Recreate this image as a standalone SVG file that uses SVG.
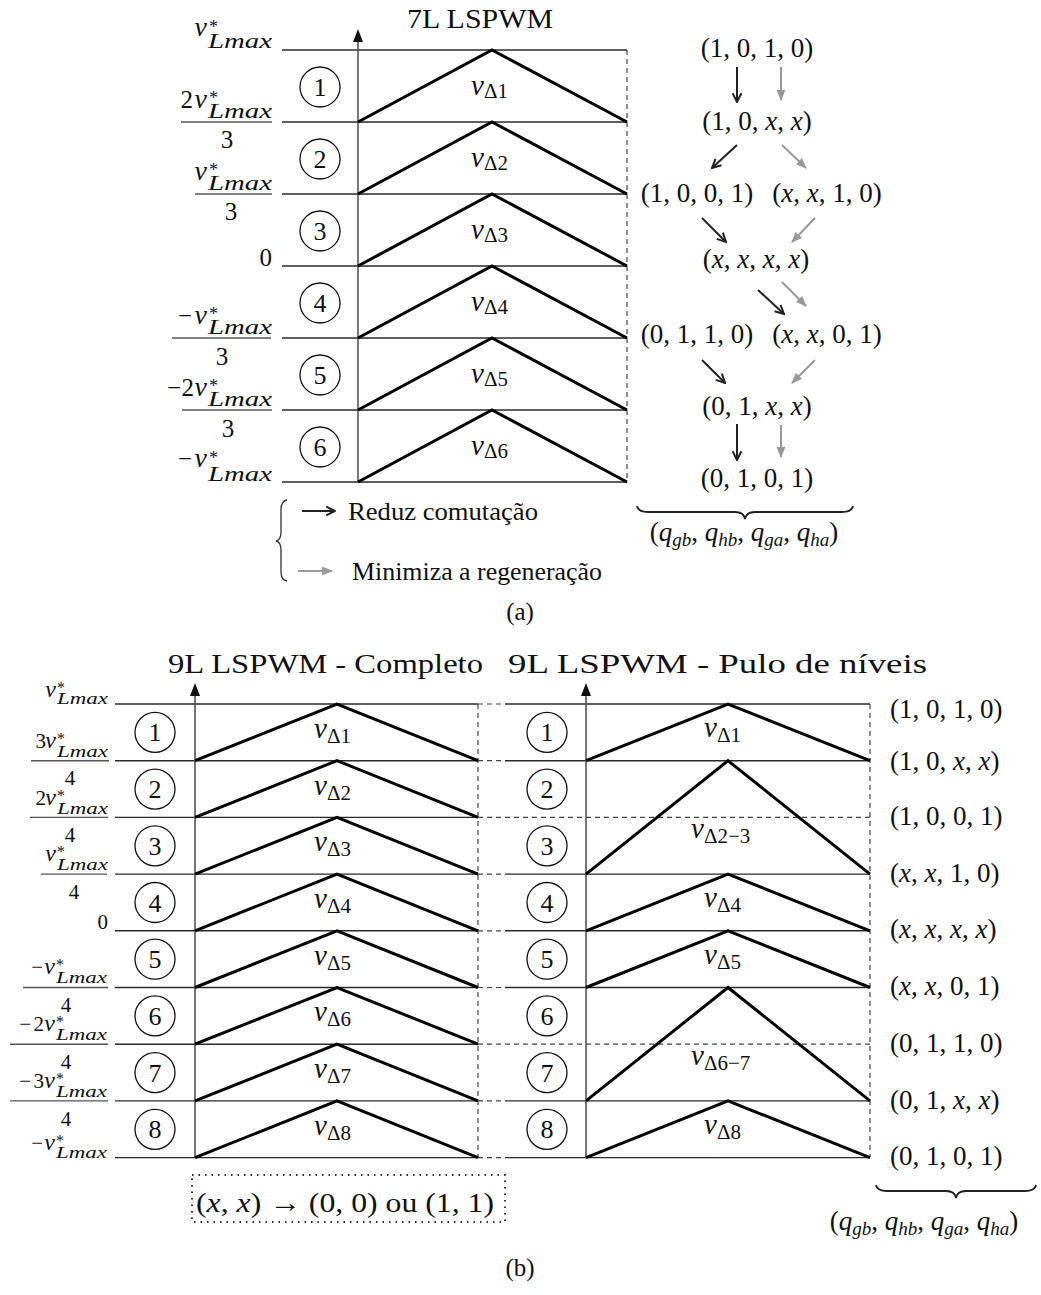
<svg xmlns="http://www.w3.org/2000/svg" width="1041" height="1295" viewBox="0 0 1041 1295">
<style>
text { font-family: "Liberation Serif", "DejaVu Serif", serif; fill: #111; }
.i { font-style: italic; }
.st { font-size: 27px; }
.grid { stroke: #2a2a2a; stroke-width: 1.4; fill: none; }
.dash { stroke: #444; stroke-width: 1.2; stroke-dasharray: 5 4; fill: none; }
.tri { stroke: #000; stroke-width: 3; fill: none; }
.axis { stroke: #555; stroke-width: 1.6; }
.circ { fill: none; stroke: #111; stroke-width: 1.3; }
.cn { font-size: 26px; text-anchor: middle; }
.bar { stroke: #555; stroke-width: 1.4; }
.ab { stroke: #222; stroke-width: 2; fill: none; marker-end: url(#mb); }
.ag { stroke: #999; stroke-width: 2; fill: none; marker-end: url(#mg); }
.brace { stroke: #222; stroke-width: 1.8; fill: none; }
.va { font-size: 29px; }
.vs { font-size: 21px; font-style: normal; }
</style>
<defs>
<marker id="mb" viewBox="0 0 10 10" refX="9" refY="5" markerWidth="11" markerHeight="11" orient="auto" markerUnits="userSpaceOnUse"><path d="M1,1 L9,5 L1,9" fill="none" stroke="#222" stroke-width="1.8"/></marker>
<marker id="mg" viewBox="0 0 10 10" refX="9" refY="5" markerWidth="11" markerHeight="11" orient="auto" markerUnits="userSpaceOnUse"><path d="M0,1 L10,5 L0,9 Z" fill="#999"/></marker>
</defs>

<!-- ===== (a) 7L LSPWM ===== -->
<text x="407" y="28" font-size="28" textLength="146" lengthAdjust="spacingAndGlyphs">7L LSPWM</text>
<g id="grid-a">
<line class="grid" x1="282" y1="50" x2="627" y2="50"/>
<line class="grid" x1="282" y1="122" x2="627" y2="122"/>
<line class="grid" x1="282" y1="194" x2="627" y2="194"/>
<line class="grid" x1="282" y1="266" x2="627" y2="266"/>
<line class="grid" x1="282" y1="338" x2="627" y2="338"/>
<line class="grid" x1="282" y1="410" x2="627" y2="410"/>
<line class="grid" x1="282" y1="482" x2="627" y2="482"/>
<line class="dash" x1="627" y1="50" x2="627" y2="482"/>
<line class="axis" x1="358" y1="482" x2="358" y2="40"/>
<polygon points="358,29 353,42 363,42" fill="#111"/>
<polyline class="tri" points="358,122 492,50 627,122"/>
<polyline class="tri" points="358,194 492,122 627,194"/>
<polyline class="tri" points="358,266 492,194 627,266"/>
<polyline class="tri" points="358,338 492,266 627,338"/>
<polyline class="tri" points="358,410 492,338 627,410"/>
<polyline class="tri" points="358,482 492,410 627,482"/>
<text x="471" y="95" class="va i">v<tspan class="vs" dy="3">Δ1</tspan></text>
<text x="471" y="167" class="va i">v<tspan class="vs" dy="3">Δ2</tspan></text>
<text x="471" y="239" class="va i">v<tspan class="vs" dy="3">Δ3</tspan></text>
<text x="471" y="311" class="va i">v<tspan class="vs" dy="3">Δ4</tspan></text>
<text x="471" y="383" class="va i">v<tspan class="vs" dy="3">Δ5</tspan></text>
<text x="471" y="455" class="va i">v<tspan class="vs" dy="3">Δ6</tspan></text>
</g>
<g id="circles-a">
<circle class="circ" cx="320" cy="87" r="20"/><text class="cn" x="320" y="96">1</text>
<circle class="circ" cx="320" cy="159" r="20"/><text class="cn" x="320" y="168">2</text>
<circle class="circ" cx="320" cy="231" r="20"/><text class="cn" x="320" y="240">3</text>
<circle class="circ" cx="320" cy="303" r="20"/><text class="cn" x="320" y="312">4</text>
<circle class="circ" cx="320" cy="375" r="20"/><text class="cn" x="320" y="384">5</text>
<circle class="circ" cx="320" cy="447" r="20"/><text class="cn" x="320" y="456">6</text>
</g>
<g id="labels-a">
<!-- L0 -->
<text x="207" y="36" font-size="28" class="i" text-anchor="end">v</text>
<text x="209" y="33" font-size="18">*</text>
<text x="208" y="48" font-size="20" class="i" textLength="64" lengthAdjust="spacingAndGlyphs">Lmax</text>
<!-- L1 -->
<text x="193" y="108" font-size="25" text-anchor="end">2</text>
<text x="207" y="108" font-size="28" class="i" text-anchor="end">v</text>
<text x="209" y="104" font-size="18">*</text>
<text x="208" y="118" font-size="20" class="i" textLength="64" lengthAdjust="spacingAndGlyphs">Lmax</text>
<line class="bar" x1="181" y1="122" x2="272" y2="122"/>
<text x="227" y="148" font-size="25" text-anchor="middle">3</text>
<!-- L2 -->
<text x="207" y="180" font-size="28" class="i" text-anchor="end">v</text>
<text x="209" y="176" font-size="18">*</text>
<text x="208" y="190" font-size="20" class="i" textLength="64" lengthAdjust="spacingAndGlyphs">Lmax</text>
<line class="bar" x1="195" y1="194" x2="272" y2="194"/>
<text x="231" y="220" font-size="25" text-anchor="middle">3</text>
<!-- L3 -->
<text x="272" y="266" font-size="25" text-anchor="end">0</text>
<!-- L4 -->
<text x="192" y="324" font-size="25" text-anchor="end">−</text>
<text x="207" y="324" font-size="28" class="i" text-anchor="end">v</text>
<text x="209" y="320" font-size="18">*</text>
<text x="208" y="334" font-size="20" class="i" textLength="64" lengthAdjust="spacingAndGlyphs">Lmax</text>
<line class="bar" x1="172" y1="338" x2="271" y2="338"/>
<text x="222" y="365" font-size="25" text-anchor="middle">3</text>
<!-- L5 -->
<text x="181" y="396" font-size="25" text-anchor="end">−</text>
<text x="194" y="396" font-size="25" text-anchor="end">2</text>
<text x="207" y="396" font-size="28" class="i" text-anchor="end">v</text>
<text x="209" y="392" font-size="18">*</text>
<text x="208" y="406" font-size="20" class="i" textLength="64" lengthAdjust="spacingAndGlyphs">Lmax</text>
<line class="bar" x1="182" y1="410" x2="272" y2="410"/>
<text x="228" y="437" font-size="25" text-anchor="middle">3</text>
<!-- L6 -->
<text x="192" y="467" font-size="25" text-anchor="end">−</text>
<text x="207" y="467" font-size="28" class="i" text-anchor="end">v</text>
<text x="209" y="464" font-size="18">*</text>
<text x="208" y="481" font-size="20" class="i" textLength="64" lengthAdjust="spacingAndGlyphs">Lmax</text>
</g>

<g id="s1"><text class="st" x="757" y="57" text-anchor="middle">(1, 0, 1, 0)</text></g>
<g id="s2"><text class="st" x="757" y="130" text-anchor="middle">(1, 0, <tspan class="i">x</tspan>, <tspan class="i">x</tspan>)</text></g>
<g id="s3a"><text class="st" x="697" y="202" text-anchor="middle">(1, 0, 0, 1)</text></g>
<g id="s3b"><text class="st" x="827" y="202" text-anchor="middle">(<tspan class="i">x</tspan>, <tspan class="i">x</tspan>, 1, 0)</text></g>
<g id="s4"><text class="st" x="756" y="268" text-anchor="middle">(<tspan class="i">x</tspan>, <tspan class="i">x</tspan>, <tspan class="i">x</tspan>, <tspan class="i">x</tspan>)</text></g>
<g id="s5a"><text class="st" x="697" y="343" text-anchor="middle">(0, 1, 1, 0)</text></g>
<g id="s5b"><text class="st" x="827" y="343" text-anchor="middle">(<tspan class="i">x</tspan>, <tspan class="i">x</tspan>, 0, 1)</text></g>
<g id="s6"><text class="st" x="757" y="415" text-anchor="middle">(0, 1, <tspan class="i">x</tspan>, <tspan class="i">x</tspan>)</text></g>
<g id="s7"><text class="st" x="757" y="487" text-anchor="middle">(0, 1, 0, 1)</text></g>

<g id="connectors">
<line class="ab" x1="737" y1="67" x2="737" y2="102"/>
<line class="ag" x1="781" y1="67" x2="781" y2="100"/>
<line class="ab" x1="737" y1="145" x2="712" y2="168"/>
<line class="ag" x1="782" y1="145" x2="806" y2="168"/>
<line class="ab" x1="702" y1="218" x2="726" y2="242"/>
<line class="ag" x1="815" y1="218" x2="792" y2="242"/>
<line class="ab" x1="758" y1="290" x2="784" y2="314"/>
<line class="ag" x1="782" y1="282" x2="806" y2="306"/>
<line class="ab" x1="702" y1="360" x2="725" y2="383"/>
<line class="ag" x1="815" y1="360" x2="792" y2="383"/>
<line class="ab" x1="737" y1="424" x2="737" y2="460"/>
<line class="ag" x1="781" y1="425" x2="781" y2="457"/>
</g>

<g id="brace-a">
<path class="brace" d="M637,506 Q638,512 648,512 L735,512 Q744,512 745,519 Q746,512 755,512 L842,512 Q852,512 853,506"/>
<text x="744" y="541" font-size="27" text-anchor="middle">(<tspan class="i">q</tspan><tspan class="i" font-size="19" dy="5">gb</tspan><tspan dy="-5">, </tspan><tspan class="i">q</tspan><tspan class="i" font-size="19" dy="5">hb</tspan><tspan dy="-5">, </tspan><tspan class="i">q</tspan><tspan class="i" font-size="19" dy="5">ga</tspan><tspan dy="-5">, </tspan><tspan class="i">q</tspan><tspan class="i" font-size="19" dy="5">ha</tspan><tspan dy="-5">)</tspan></text>
</g>

<g id="legend">
<path d="M287,500 Q281,501 281,510 L281,532 Q281,540 276,541 Q281,542 281,550 L281,572 Q281,580 287,581" stroke="#333" stroke-width="1.3" fill="none"/>
<line class="ab" x1="302" y1="511" x2="335" y2="511"/>
<text x="348" y="520" font-size="25" textLength="190" lengthAdjust="spacingAndGlyphs">Reduz comutação</text>
<line class="ag" x1="298" y1="571" x2="332" y2="571"/>
<text x="352" y="580" font-size="25" textLength="250" lengthAdjust="spacingAndGlyphs">Minimiza a regeneração</text>
</g>

<text x="520" y="620" font-size="25" text-anchor="middle">(a)</text>

<!-- ===== (b) 9L LSPWM ===== -->
<text x="168" y="673" font-size="28" textLength="315" lengthAdjust="spacingAndGlyphs">9L LSPWM - Completo</text>
<text x="508" y="673" font-size="28" textLength="419" lengthAdjust="spacingAndGlyphs">9L LSPWM - Pulo de níveis</text>

<g id="grid-b-left">
<line class="grid" x1="115" y1="704" x2="478" y2="704"/>
<line class="grid" x1="115" y1="760.7" x2="478" y2="760.7"/>
<line class="grid" x1="115" y1="817.4" x2="478" y2="817.4"/>
<line class="grid" x1="115" y1="874.1" x2="478" y2="874.1"/>
<line class="grid" x1="115" y1="930.8" x2="478" y2="930.8"/>
<line class="grid" x1="115" y1="987.5" x2="478" y2="987.5"/>
<line class="grid" x1="115" y1="1044.2" x2="478" y2="1044.2"/>
<line class="grid" x1="115" y1="1100.9" x2="478" y2="1100.9"/>
<line class="grid" x1="115" y1="1157.6" x2="478" y2="1157.6"/>
<line class="dash" x1="478" y1="704" x2="478" y2="1157.6"/>
<line class="axis" x1="195" y1="1157.6" x2="195" y2="694"/>
<polygon points="195,683 190,696 200,696" fill="#111"/>
<polyline class="tri" points="195,760.7 337,704 478,760.7"/>
<polyline class="tri" points="195,817.4 337,760.7 478,817.4"/>
<polyline class="tri" points="195,874.1 337,817.4 478,874.1"/>
<polyline class="tri" points="195,930.8 337,874.1 478,930.8"/>
<polyline class="tri" points="195,987.5 337,930.8 478,987.5"/>
<polyline class="tri" points="195,1044.2 337,987.5 478,1044.2"/>
<polyline class="tri" points="195,1100.9 337,1044.2 478,1100.9"/>
<polyline class="tri" points="195,1157.6 337,1100.9 478,1157.6"/>
<text x="314" y="738" class="va i">v<tspan class="vs" dy="5">Δ1</tspan></text>
<text x="314" y="795" class="va i">v<tspan class="vs" dy="5">Δ2</tspan></text>
<text x="314" y="851" class="va i">v<tspan class="vs" dy="5">Δ3</tspan></text>
<text x="314" y="908" class="va i">v<tspan class="vs" dy="5">Δ4</tspan></text>
<text x="314" y="965" class="va i">v<tspan class="vs" dy="5">Δ5</tspan></text>
<text x="314" y="1021" class="va i">v<tspan class="vs" dy="5">Δ6</tspan></text>
<text x="314" y="1078" class="va i">v<tspan class="vs" dy="5">Δ7</tspan></text>
<text x="314" y="1135" class="va i">v<tspan class="vs" dy="5">Δ8</tspan></text>
</g>
<g id="circles-b-left">
<circle class="circ" cx="155" cy="732.4" r="20"/><text class="cn" x="155" y="741.4">1</text>
<circle class="circ" cx="155" cy="789.1" r="20"/><text class="cn" x="155" y="798.1">2</text>
<circle class="circ" cx="155" cy="845.8" r="20"/><text class="cn" x="155" y="854.8">3</text>
<circle class="circ" cx="155" cy="902.5" r="20"/><text class="cn" x="155" y="911.5">4</text>
<circle class="circ" cx="155" cy="959.2" r="20"/><text class="cn" x="155" y="968.2">5</text>
<circle class="circ" cx="155" cy="1015.9" r="20"/><text class="cn" x="155" y="1024.9">6</text>
<circle class="circ" cx="155" cy="1072.6" r="20"/><text class="cn" x="155" y="1081.6">7</text>
<circle class="circ" cx="155" cy="1129.3" r="20"/><text class="cn" x="155" y="1138.3">8</text>
</g>
<g id="labels-b">
<!-- L0 -->
<text x="56" y="697" font-size="24" class="i" text-anchor="end">v</text>
<text x="57" y="693" font-size="16">*</text>
<text x="57" y="704" font-size="17" class="i" textLength="51" lengthAdjust="spacingAndGlyphs">Lmax</text>
<!-- L1 -->
<text x="46" y="748" font-size="21" text-anchor="end">3</text>
<text x="56" y="748" font-size="24" class="i" text-anchor="end">v</text>
<text x="57" y="744" font-size="16">*</text>
<text x="57" y="757" font-size="17" class="i" textLength="51" lengthAdjust="spacingAndGlyphs">Lmax</text>
<line class="bar" x1="31" y1="760.7" x2="109" y2="760.7"/>
<text x="70" y="785" font-size="21" text-anchor="middle">4</text>
<!-- L2 -->
<text x="46" y="805" font-size="21" text-anchor="end">2</text>
<text x="56" y="805" font-size="24" class="i" text-anchor="end">v</text>
<text x="57" y="801" font-size="16">*</text>
<text x="57" y="814" font-size="17" class="i" textLength="51" lengthAdjust="spacingAndGlyphs">Lmax</text>
<line class="bar" x1="30" y1="817.4" x2="108" y2="817.4"/>
<text x="70" y="842" font-size="21" text-anchor="middle">4</text>
<!-- L3 -->
<text x="56" y="861" font-size="24" class="i" text-anchor="end">v</text>
<text x="57" y="857" font-size="16">*</text>
<text x="57" y="870" font-size="17" class="i" textLength="51" lengthAdjust="spacingAndGlyphs">Lmax</text>
<line class="bar" x1="41" y1="874.1" x2="107" y2="874.1"/>
<text x="74" y="899" font-size="21" text-anchor="middle">4</text>
<!-- L4 -->
<text x="108" y="929" font-size="21" text-anchor="end">0</text>
<!-- L5 -->
<text x="43" y="974" font-size="21" text-anchor="end">−</text>
<text x="55" y="974" font-size="24" class="i" text-anchor="end">v</text>
<text x="56" y="970" font-size="16">*</text>
<text x="56" y="983" font-size="17" class="i" textLength="51" lengthAdjust="spacingAndGlyphs">Lmax</text>
<line class="bar" x1="23" y1="987.5" x2="108" y2="987.5"/>
<text x="66" y="1012" font-size="21" text-anchor="middle">4</text>
<!-- L6 -->
<text x="31" y="1031" font-size="21" text-anchor="end">−</text>
<text x="44" y="1031" font-size="21" text-anchor="end">2</text>
<text x="55" y="1031" font-size="24" class="i" text-anchor="end">v</text>
<text x="56" y="1027" font-size="16">*</text>
<text x="56" y="1040" font-size="17" class="i" textLength="51" lengthAdjust="spacingAndGlyphs">Lmax</text>
<line class="bar" x1="10" y1="1044.2" x2="108" y2="1044.2"/>
<text x="66" y="1069" font-size="21" text-anchor="middle">4</text>
<!-- L7 -->
<text x="31" y="1088" font-size="21" text-anchor="end">−</text>
<text x="44" y="1088" font-size="21" text-anchor="end">3</text>
<text x="55" y="1088" font-size="24" class="i" text-anchor="end">v</text>
<text x="56" y="1084" font-size="16">*</text>
<text x="56" y="1097" font-size="17" class="i" textLength="51" lengthAdjust="spacingAndGlyphs">Lmax</text>
<line class="bar" x1="10" y1="1100.9" x2="108" y2="1100.9"/>
<text x="66" y="1126" font-size="21" text-anchor="middle">4</text>
<!-- L8 -->
<text x="43" y="1150" font-size="21" text-anchor="end">−</text>
<text x="55" y="1150" font-size="24" class="i" text-anchor="end">v</text>
<text x="56" y="1146" font-size="16">*</text>
<text x="56" y="1158" font-size="17" class="i" textLength="51" lengthAdjust="spacingAndGlyphs">Lmax</text>
</g>

<g id="grid-b-right">
<line class="dash" x1="478" y1="704" x2="505" y2="704"/>
<line class="dash" x1="478" y1="760.7" x2="505" y2="760.7"/>
<line class="dash" x1="478" y1="874.1" x2="505" y2="874.1"/>
<line class="dash" x1="478" y1="930.8" x2="505" y2="930.8"/>
<line class="dash" x1="478" y1="987.5" x2="505" y2="987.5"/>
<line class="dash" x1="478" y1="1100.9" x2="505" y2="1100.9"/>
<line class="dash" x1="478" y1="1157.6" x2="505" y2="1157.6"/>
<line class="dash" x1="478" y1="817.4" x2="870" y2="817.4"/>
<line class="dash" x1="478" y1="1044.2" x2="870" y2="1044.2"/>
<line class="grid" x1="505" y1="704" x2="870" y2="704"/>
<line class="grid" x1="505" y1="760.7" x2="870" y2="760.7"/>
<line class="grid" x1="505" y1="874.1" x2="870" y2="874.1"/>
<line class="grid" x1="505" y1="930.8" x2="870" y2="930.8"/>
<line class="grid" x1="505" y1="987.5" x2="870" y2="987.5"/>
<line class="grid" x1="505" y1="1100.9" x2="870" y2="1100.9"/>
<line class="grid" x1="505" y1="1157.6" x2="870" y2="1157.6"/>
<line class="dash" x1="870" y1="704" x2="870" y2="1157.6"/>
<line class="axis" x1="586" y1="1157.6" x2="586" y2="694"/>
<polygon points="586,683 581,696 591,696" fill="#111"/>
<polyline class="tri" points="586,760.7 728,704 870,760.7"/>
<polyline class="tri" points="586,874.1 728,760.7 870,874.1"/>
<polyline class="tri" points="586,930.8 728,874.1 870,930.8"/>
<polyline class="tri" points="586,987.5 728,930.8 870,987.5"/>
<polyline class="tri" points="586,1100.9 728,987.5 870,1100.9"/>
<polyline class="tri" points="586,1157.6 728,1100.9 870,1157.6"/>
<text x="704" y="737" class="va i">v<tspan class="vs" dy="5">Δ1</tspan></text>
<text x="691" y="838" class="va i">v<tspan class="vs" dy="5">Δ2−3</tspan></text>
<text x="704" y="907" class="va i">v<tspan class="vs" dy="5">Δ4</tspan></text>
<text x="704" y="964" class="va i">v<tspan class="vs" dy="5">Δ5</tspan></text>
<text x="691" y="1065" class="va i">v<tspan class="vs" dy="5">Δ6−7</tspan></text>
<text x="704" y="1134" class="va i">v<tspan class="vs" dy="5">Δ8</tspan></text>
</g>
<g id="circles-b-right">
<circle class="circ" cx="547" cy="732.4" r="20"/><text class="cn" x="547" y="741.4">1</text>
<circle class="circ" cx="547" cy="789.1" r="20"/><text class="cn" x="547" y="798.1">2</text>
<circle class="circ" cx="547" cy="845.8" r="20"/><text class="cn" x="547" y="854.8">3</text>
<circle class="circ" cx="547" cy="902.5" r="20"/><text class="cn" x="547" y="911.5">4</text>
<circle class="circ" cx="547" cy="959.2" r="20"/><text class="cn" x="547" y="968.2">5</text>
<circle class="circ" cx="547" cy="1015.9" r="20"/><text class="cn" x="547" y="1024.9">6</text>
<circle class="circ" cx="547" cy="1072.6" r="20"/><text class="cn" x="547" y="1081.6">7</text>
<circle class="circ" cx="547" cy="1129.3" r="20"/><text class="cn" x="547" y="1138.3">8</text>
</g>

<g id="states-b">
<text class="st" x="890" y="718">(1, 0, 1, 0)</text>
<text class="st" x="890" y="770">(1, 0, <tspan class="i">x</tspan>, <tspan class="i">x</tspan>)</text>
<text class="st" x="890" y="825">(1, 0, 0, 1)</text>
<text class="st" x="890" y="882">(<tspan class="i">x</tspan>, <tspan class="i">x</tspan>, 1, 0)</text>
<text class="st" x="890" y="938">(<tspan class="i">x</tspan>, <tspan class="i">x</tspan>, <tspan class="i">x</tspan>, <tspan class="i">x</tspan>)</text>
<text class="st" x="890" y="995">(<tspan class="i">x</tspan>, <tspan class="i">x</tspan>, 0, 1)</text>
<text class="st" x="890" y="1052">(0, 1, 1, 0)</text>
<text class="st" x="890" y="1109">(0, 1, <tspan class="i">x</tspan>, <tspan class="i">x</tspan>)</text>
<text class="st" x="890" y="1165">(0, 1, 0, 1)</text>
</g>

<g id="brace-b">
<path class="brace" d="M876,1185 Q877,1191 887,1191 L946,1191 Q955,1191 956,1198 Q957,1191 966,1191 L1025,1191 Q1035,1191 1036,1185"/>
<text x="924" y="1230" font-size="27" text-anchor="middle">(<tspan class="i">q</tspan><tspan class="i" font-size="19" dy="5">gb</tspan><tspan dy="-5">, </tspan><tspan class="i">q</tspan><tspan class="i" font-size="19" dy="5">hb</tspan><tspan dy="-5">, </tspan><tspan class="i">q</tspan><tspan class="i" font-size="19" dy="5">ga</tspan><tspan dy="-5">, </tspan><tspan class="i">q</tspan><tspan class="i" font-size="19" dy="5">ha</tspan><tspan dy="-5">)</tspan></text>
</g>

<g id="note-box">
<rect x="192" y="1175" width="313" height="47" fill="none" stroke="#333" stroke-width="2" stroke-dasharray="1.5 5"/>
<text x="196" y="1212" font-size="28" textLength="298" lengthAdjust="spacingAndGlyphs">(<tspan class="i">x</tspan>, <tspan class="i">x</tspan>) → (0, 0) ou (1, 1)</text>
</g>

<text x="520" y="1276" font-size="25" text-anchor="middle">(b)</text>
</svg>
